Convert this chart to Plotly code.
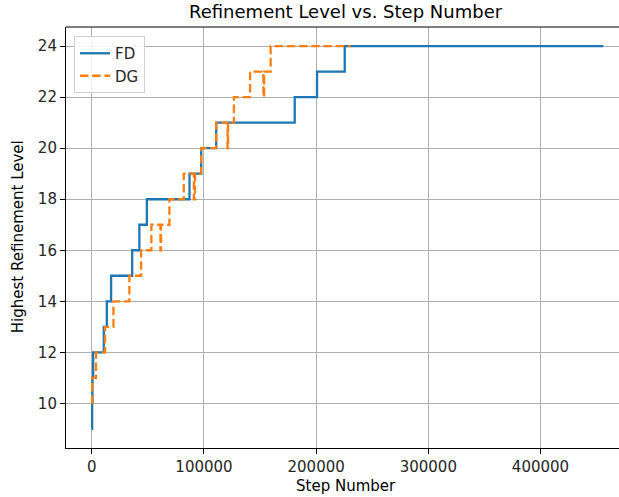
import plotly.graph_objects as go

# FD series: step numbers where level changes, and levels
fd_steps = [0, 300, 600, 1200, 10700, 13400, 17200, 36000, 42400, 49100,
            87100, 97500, 110900, 180900, 200800, 225500, 456000]
fd_levels = [9, 10, 11, 12, 13, 14, 15, 16, 17, 18,
             19, 20, 21, 22, 23, 24, 24]

# DG series
dg_steps = [0, 300, 3750, 11800, 19300, 33500, 43950, 53100, 61200, 61700,
            69200, 82000, 91000, 92000, 97500, 110900, 121000, 121500,
            126700, 141100, 153000, 153600, 159400, 231000]
dg_levels = [10, 11, 12, 13, 14, 15, 16, 17, 16, 17,
             18, 19, 18, 19, 20, 21, 20, 21,
             22, 23, 22, 23, 24, 24]

x_ticks = [0, 100000, 200000, 300000, 400000]
x_tick_labels = ["0", "100000", "200000", "300000", "400000"]
y_ticks = [10, 12, 14, 16, 18, 20, 22, 24]
y_tick_labels = [str(v) for v in y_ticks]

W, H = 619, 497
# target plot box in page pixels
PL, PR, PT, PB = 66, 619, 27, 447.6
ML, MR, MT, MB = PL, 0, PT, H - PB

fig = go.Figure()
fig.add_trace(go.Scatter(x=fd_steps, y=fd_levels, mode="lines", name="FD",
                         line=dict(color="#1f77b4", width=2.3, shape="hv")))
fig.add_trace(go.Scatter(x=dg_steps, y=dg_levels, mode="lines", name="DG",
                         line=dict(color="#ff7f0e", width=2.3, shape="hv",
                                   dash="8.5px,3.7px")))

pw = PR - PL
ph = PB - PT


def px(xp):
    return (xp - PL) / pw


def py(yp):
    return (PB - yp) / ph


font = "DejaVu Sans, Liberation Sans, sans-serif"
fig.update_layout(
    width=W, height=H,
    margin=dict(l=ML, r=MR, t=MT, b=MB),
    paper_bgcolor="white", plot_bgcolor="white",
    font=dict(family=font, size=15, color="#262626"),
    hovermode=False,
    showlegend=True,
    legend=dict(x=px(74), y=py(36), xanchor="left", yanchor="top",
                bgcolor="rgba(255,255,255,0.85)", bordercolor="#d0d0d0",
                borderwidth=1, font=dict(size=15, color="#262626")),
    xaxis=dict(range=[-23000, 470000], tickvals=x_ticks, ticktext=x_tick_labels,
               showgrid=True, gridcolor="#b0b0b0", gridwidth=1.2,
               zeroline=False, showline=True, linecolor="black", linewidth=1.1,
               ticks="outside", ticklen=5, tickcolor="black", tickwidth=1.1,
               showspikes=False,
               tickfont=dict(size=15, color="#262626")),
    yaxis=dict(range=[8.25, 24.75], tickvals=y_ticks, ticktext=y_tick_labels,
               showgrid=True, gridcolor="#b0b0b0", gridwidth=1.2,
               zeroline=False, showline=True, linecolor="black", linewidth=1.1,
               ticks="outside", ticklen=5, tickcolor="black", tickwidth=1.1,
               showspikes=False,
               tickfont=dict(size=15, color="#262626")),
)

# top spine (right side is cropped in the reference)
fig.add_shape(type="line", xref="paper", yref="paper", x0=0, x1=1, y0=1, y1=1,
              line=dict(color="black", width=1.1))

fig.add_annotation(text="Refinement Level vs. Step Number", xref="paper", yref="paper",
                   x=px(346), y=py(12), xanchor="center", yanchor="middle",
                   showarrow=False, font=dict(size=18, color="black"))
fig.add_annotation(text="Step Number", xref="paper", yref="paper",
                   x=px(346), y=py(486), xanchor="center", yanchor="middle",
                   showarrow=False, font=dict(size=15, color="black"))
fig.add_annotation(text="Highest Refinement Level", xref="paper", yref="paper",
                   x=px(18), y=py(237), xanchor="center", yanchor="middle",
                   textangle=-90, showarrow=False, font=dict(size=15, color="black"))

fig.write_html("out.html",
               config={"displayModeBar": False},
               post_script="document.body.style.margin='0px';"
                           "document.body.style.overflow='hidden';")
